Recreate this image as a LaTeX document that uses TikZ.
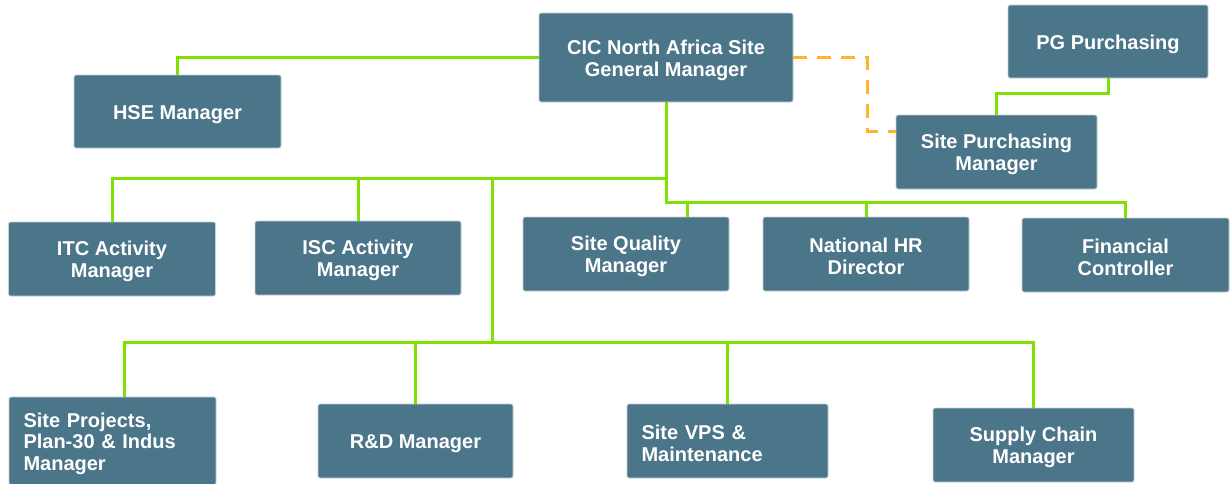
\documentclass[tikz,border=0pt]{standalone}
\usepackage{fontspec}
\setmainfont{Liberation Sans}
\definecolor{boxfill}{HTML}{4B7589}
\definecolor{boxedge}{HTML}{C5D1D8}
\definecolor{linegreen}{HTML}{80E100}
\definecolor{lineorange}{HTML}{FFB526}
\newcommand\upstrut{\rule{0pt}{19.8pt}}
\tikzset{
  orgbox/.style={draw=boxedge, line width=0.8pt, fill=boxfill, rounded corners=2pt,
    text=white, font=\fontsize{20}{21.7}\selectfont\bfseries, align=center,
    inner sep=0pt, anchor=center},
  leftbox/.style={orgbox, align=left, text width=#1},
  link/.style={draw=linegreen, line width=3pt},
  dotted link/.style={draw=lineorange, line width=3pt, dash pattern=on 14pt off 10pt},
}
\begin{document}
\begin{tikzpicture}[x=1pt,y=-1pt]
\useasboundingbox (0,0) rectangle (1231,483);
\clip (0,0) rectangle (1231,483);
% boxes
\node[orgbox, minimum width=254pt, minimum height=89pt] (cic) at (666,57.5) {\upstrut CIC North Africa Site\\General Manager};
\node[orgbox, minimum width=200pt, minimum height=73pt] (pg) at (1108,41.5) {\upstrut PG Purchasing};
\node[orgbox, minimum width=207pt, minimum height=73pt] (hse) at (177.5,111.5) {\upstrut HSE Manager};
\node[orgbox, minimum width=201pt, minimum height=74pt] (spm) at (996.5,152) {\upstrut Site Purchasing\\Manager};
\node[orgbox, minimum width=207pt, minimum height=74pt] (itc) at (112,259) {\upstrut ITC Activity\\Manager};
\node[orgbox, minimum width=206pt, minimum height=74pt] (isc) at (358,258) {\upstrut ISC Activity\\Manager};
\node[orgbox, minimum width=206pt, minimum height=74pt] (sqm) at (626,254) {\upstrut Site Quality\\Manager};
\node[orgbox, minimum width=206pt, minimum height=74pt] (hr) at (866,254) {\upstrut National HR\\Director};
\node[orgbox, minimum width=207pt, minimum height=74pt] (fc) at (1125.5,255) {\upstrut Financial\\Controller};
\node[leftbox=178pt, minimum width=207pt, minimum height=88pt] (spp) at (112.5,441) {\upstrut Site Projects,\\Plan-30 \& Indus\\Manager};
\node[orgbox, minimum width=195pt, minimum height=74pt] (rd) at (415.5,441) {\upstrut R\&D Manager};
\node[leftbox=172pt, minimum width=201pt, minimum height=74pt] (vps) at (727.5,441) {\upstrut Site VPS \&\\Maintenance};
\node[orgbox, minimum width=201pt, minimum height=74pt] (sc) at (1033.5,445) {\upstrut Supply Chain\\Manager};
% junctions
\coordinate (j1) at (666,178);
\coordinate (j2) at (666,202);
\coordinate (j3) at (492,178);
\coordinate (j4) at (492,342);
\coordinate (d1) at (867,131);
% connectors
\draw[link] (cic.west) -| (hse.north);
\draw[link] (cic.south) -- (j2) -| (fc.north);
\draw[link] (j1) -| (itc.north);
\draw[link] (isc.north) -- (isc.north |- j1);
\draw[link] ([xshift=61pt]sqm.north) -- ([xshift=61pt]sqm.north |- j2);
\draw[link] (hr.north) -- (hr.north |- j2);
\draw[link] (j3) -- (j4);
\draw[link] ([xshift=12pt]spp.north) |- (sc.north |- j4) -- (sc.north);
\draw[link] (rd.north) -- (rd.north |- j4);
\draw[link] (vps.north) -- (vps.north |- j4);
\draw[link] (pg.south) -- ++(0,15) -| (spm.north);
\draw[dotted link] (cic.east) -| (d1) -- (spm.west |- d1);
\end{tikzpicture}
\end{document}
